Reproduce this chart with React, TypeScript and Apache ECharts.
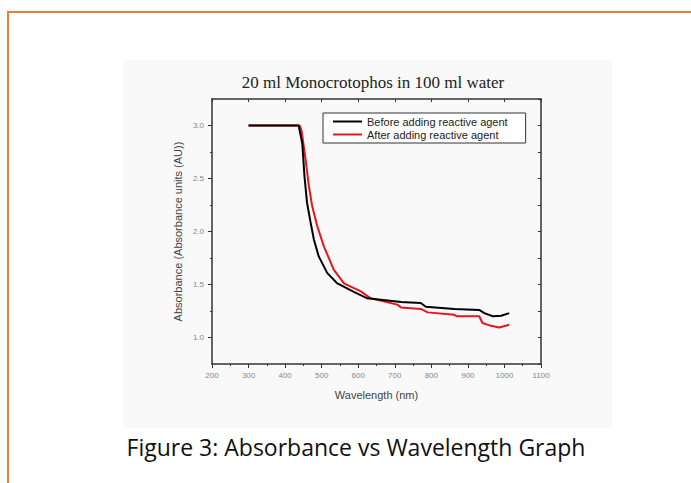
import React, { useEffect, useRef } from "react";
import * as echarts from "echarts";

const chartTitle = "20 ml Monocrotophos in 100 ml water";
const caption = "Figure 3: Absorbance vs Wavelength Graph";
const xName = "Wavelength (nm)";
const yName = "Absorbance (Absorbance units (AU))";
const seriesNames = ["Before adding reactive agent", "After adding reactive agent"];

const yLabelTicks = [1.0, 1.5, 2.0, 2.5, 3.0];
const yMinorTicks = [1.25, 1.75, 2.25, 2.75];

const beforeData: [number, number][] = [
  [300, 3.0], [437, 3.0], [447, 2.83], [453, 2.52], [460, 2.27], [470, 2.08],
  [479, 1.92], [492, 1.765], [515, 1.61], [543, 1.51], [588, 1.43], [625, 1.37],
  [662, 1.357], [717, 1.335], [771, 1.325], [785, 1.29], [863, 1.27], [931, 1.26],
  [945, 1.23], [968, 1.2], [991, 1.205], [1013, 1.23],
];

const afterData: [number, number][] = [
  [300, 3.0], [440, 3.0], [445, 2.95], [456, 2.68], [465, 2.43], [474, 2.24],
  [488, 2.05], [506, 1.86], [533, 1.64], [561, 1.51], [607, 1.435], [634, 1.37],
  [707, 1.31], [717, 1.284], [771, 1.27], [790, 1.237], [862, 1.215], [870, 1.2],
  [931, 1.2], [940, 1.137], [963, 1.11], [986, 1.095], [1013, 1.12],
];

export default function App() {
  const ref = useRef<HTMLDivElement>(null);
  useEffect(() => {
    if (!ref.current) return;
    const chart = echarts.init(ref.current, null, { renderer: "svg" });
    const axisColor = "#333";
    const labelColor = "#888";
    chart.setOption({
      animation: false,
      backgroundColor: "#fff",
      grid: { left: 212, top: 99, right: 150, bottom: 119, containLabel: false },
      graphic: [
        {
          type: "rect",
          silent: true,
          z: -10,
          shape: { x: 123, y: 60, width: 489, height: 368 },
          style: { fill: "#f9f9f9" },
        },
        {
          type: "rect",
          silent: true,
          shape: { x: 8, y: 12, width: 720, height: 520 },
          style: { fill: "none", stroke: "#ED7D31", lineWidth: 2 },
        },
        {
          type: "text",
          x: 373,
          y: 82,
          style: {
            text: chartTitle,
            fontFamily: "Liberation Serif",
            fontSize: 17,
            fill: "#222",
            align: "center",
            verticalAlign: "middle",
          },
        },
        {
          type: "text",
          x: 356,
          y: 447,
          style: {
            text: caption,
            fontFamily: "Open Sans",
            fontSize: 23,
            fill: "#111",
            align: "center",
            verticalAlign: "middle",
          },
        },
      ],
      legend: {
        orient: "vertical",
        left: 323,
        top: 113,
        padding: [3, 18, 3, 10],
        itemGap: 2,
        itemWidth: 29,
        itemHeight: 2,
        icon: "rect",
        borderColor: "#333",
        borderWidth: 1,
        backgroundColor: "#fff",
        textStyle: { fontFamily: "Liberation Sans", fontSize: 11, color: "#222" },
        data: seriesNames,
      },
      xAxis: [
        {
          type: "value",
          min: 200,
          max: 1100,
          interval: 100,
          name: xName,
          nameLocation: "middle",
          nameGap: 25,
          nameTextStyle: { fontFamily: "Liberation Sans", fontSize: 11, color: "#444" },
          axisLine: { show: true, onZero: false, lineStyle: { color: axisColor, width: 1.5 } },
          axisTick: { show: true, inside: false, length: 4, lineStyle: { color: axisColor } },
          minorTick: { show: true, splitNumber: 2, length: 2, lineStyle: { color: axisColor } },
          axisLabel: {
            margin: 7,
            formatter: (v: number) => String(v),
            fontFamily: "Liberation Sans",
            fontSize: 8,
            color: labelColor,
          },
          splitLine: { show: false },
        },
        {
          type: "value",
          position: "top",
          min: 200,
          max: 1100,
          interval: 100,
          axisLine: { show: true, onZero: false, lineStyle: { color: axisColor, width: 1.5 } },
          axisTick: { show: true, inside: true, length: 3, lineStyle: { color: axisColor } },
          axisLabel: { show: false },
          splitLine: { show: false },
        },
      ],
      yAxis: [
        {
          type: "value",
          min: 0.75,
          max: 3.25,
          name: yName,
          nameLocation: "middle",
          nameRotate: 90,
          nameGap: 29,
          nameTextStyle: { fontFamily: "Liberation Sans", fontSize: 11, color: "#444" },
          axisLine: { show: true, onZero: false, lineStyle: { color: axisColor, width: 1.5 } },
          axisTick: {
            show: true,
            inside: false,
            length: 4,
            customValues: yLabelTicks,
            lineStyle: { color: axisColor },
          },
          axisLabel: {
            margin: 8,
            customValues: yLabelTicks,
            formatter: (v: number) => v.toFixed(1),
            fontFamily: "Liberation Sans",
            fontSize: 8,
            color: labelColor,
          },
          splitLine: { show: false },
        },
        {
          type: "value",
          position: "left",
          min: 0.75,
          max: 3.25,
          axisLine: { show: false },
          axisTick: {
            show: true,
            inside: false,
            length: 2,
            customValues: yMinorTicks,
            lineStyle: { color: axisColor },
          },
          axisLabel: { show: false },
          splitLine: { show: false },
        },
        {
          type: "value",
          position: "right",
          min: 0.75,
          max: 3.25,
          interval: 0.25,
          axisLine: { show: true, onZero: false, lineStyle: { color: axisColor, width: 1.5 } },
          axisTick: { show: true, inside: true, length: 3, lineStyle: { color: axisColor } },
          axisLabel: { show: false },
          splitLine: { show: false },
        },
      ],
      series: [
        {
          name: seriesNames[0],
          type: "line",
          xAxisIndex: 0,
          yAxisIndex: 0,
          data: beforeData,
          showSymbol: false,
          symbol: "none",
          color: "#000000",
          lineStyle: { color: "#000000", width: 2 },
          z: 3,
        },
        {
          name: seriesNames[1],
          type: "line",
          xAxisIndex: 0,
          yAxisIndex: 0,
          data: afterData,
          showSymbol: false,
          symbol: "none",
          color: "#e8141c",
          lineStyle: { color: "#e8141c", width: 2 },
          z: 2,
        },
      ],
    });
    return () => chart.dispose();
  }, []);
  return (
    <div
      ref={ref}
      style={{ position: "fixed", left: 0, top: 0, width: 691, height: 483 }}
    />
  );
}
